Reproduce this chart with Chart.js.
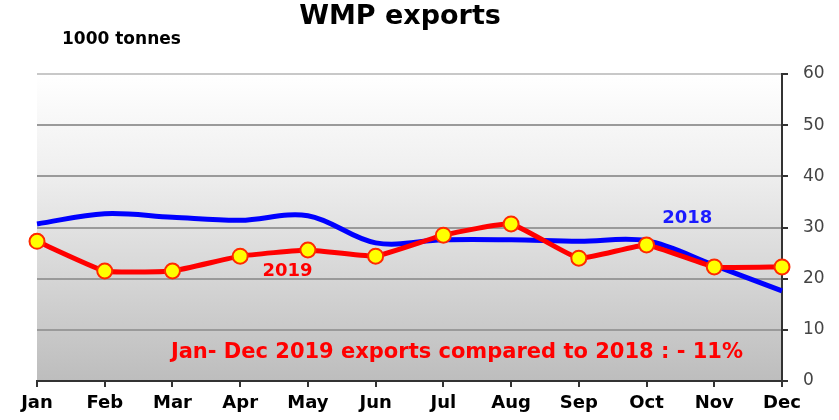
<!DOCTYPE html>
<html>
<head>
<meta charset="utf-8">
<script src="https://cdn.jsdelivr.net/npm/chart.js@4/dist/chart.umd.min.js"></script>
<style>
  html, body { margin: 0; padding: 0; background: #fff; }
  #wrap { width: 839px; height: 420px; position: relative; }
</style>
</head>
<body>
<div id="wrap"><canvas id="wmpChart"></canvas></div>
<script>
const months = ["Jan", "Feb", "Mar", "Apr", "May", "Jun", "Jul", "Aug", "Sep", "Oct", "Nov", "Dec"];
const exports2018 = [30.7, 32.7, 32.0, 31.4, 32.3, 27.0, 27.6, 27.6, 27.3, 27.4, 22.6, 17.6];
const exports2019 = [27.3, 21.5, 21.5, 24.4, 25.6, 24.4, 28.5, 30.7, 24.0, 26.6, 22.3, 22.3];
const yTicks = [0, 10, 20, 30, 40, 50, 60];

const FONT = "'DejaVu Sans', Verdana, sans-serif";

// gradient plot background + all the free text
const decor = {
  id: "decor",
  beforeDraw(chart) {
    const { ctx, chartArea: a } = chart;
    const g = ctx.createLinearGradient(0, a.top, 0, a.bottom);
    g.addColorStop(0, "#ffffff");
    g.addColorStop(0.3, "#f0f0f0");
    g.addColorStop(1, "#bdbdbd");
    ctx.save();
    ctx.fillStyle = g;
    ctx.fillRect(a.left, a.top, a.right - a.left, a.bottom - a.top);
    ctx.restore();
  },
  afterDraw(chart) {
    const { ctx } = chart;
    const x = chart.scales.x, y = chart.scales.y;
    ctx.save();
    ctx.textBaseline = "middle";
    ctx.textAlign = "center";
    ctx.fillStyle = "#000";
    ctx.font = "bold 27px " + FONT;
    ctx.fillText("WMP exports", 400, 17);
    ctx.textAlign = "left";
    ctx.font = "bold 17px " + FONT;
    ctx.fillText("1000 tonnes", 62, 40);

    ctx.textAlign = "center";
    ctx.font = "bold 18px " + FONT;
    ctx.fillStyle = "#1a1aff";
    ctx.fillText("2018", x.getPixelForValue(9.6), y.getPixelForValue(31.8));
    ctx.fillStyle = "#ff0000";
    ctx.fillText("2019", x.getPixelForValue(3.7), y.getPixelForValue(21.5));
    ctx.font = "bold 21px " + FONT;
    ctx.fillText("Jan- Dec 2019 exports compared to 2018 : - 11%", x.getPixelForValue(6.2), y.getPixelForValue(5.6));
    ctx.restore();
  }
};

new Chart(document.getElementById("wmpChart"), {
  type: "line",
  data: {
    labels: months,
    datasets: [
      {
        label: "2019",
        data: exports2019,
        borderColor: "#ff0000",
        borderWidth: 5,
        tension: 0.12,
        pointRadius: 7.5,
        pointBackgroundColor: "#ffff00",
        pointBorderColor: "#ff2a00",
        pointBorderWidth: 2,
      },
      {
        label: "2018",
        data: exports2018,
        borderColor: "#0000ff",
        borderWidth: 5,
        tension: 0.35,
        pointRadius: 0,
      },
    ],
  },
  options: {
    responsive: true,
    maintainAspectRatio: false,
    animation: false,
    layout: { padding: { top: 74, left: 37, right: 0, bottom: 0 } },
    plugins: {
      legend: { display: false },
      title: { display: false },
      tooltip: { enabled: false },
    },
    scales: {
      x: {
        offset: false,
        grid: { drawOnChartArea: false, drawTicks: true, tickLength: 6, tickColor: "#333", lineWidth: 2 },
        border: { color: "#333", width: 2 },
        ticks: { color: "#000", padding: 6, font: { family: FONT, size: 18, weight: "bold" }, maxRotation: 0 },
        afterFit(scale) { scale.height = 39; },
      },
      y: {
        position: "right",
        min: 0,
        max: 60,
        afterBuildTicks(scale) { scale.ticks = yTicks.map((v) => ({ value: v })); },
        grid: {
          color: (c) => (c.tick && c.tick.value === 60 ? "#c8c8c8" : "#9a9a9a"),
          lineWidth: 2,
          drawTicks: true,
          tickLength: 6,
          tickColor: "#333",
        },
        border: { color: "#333", width: 2 },
        ticks: { color: "#444", padding: 15, font: { family: FONT, size: 17 } },
        afterFit(scale) { scale.width = 57; },
      },
    },
  },
  plugins: [decor],
});
</script>
</body>
</html>
